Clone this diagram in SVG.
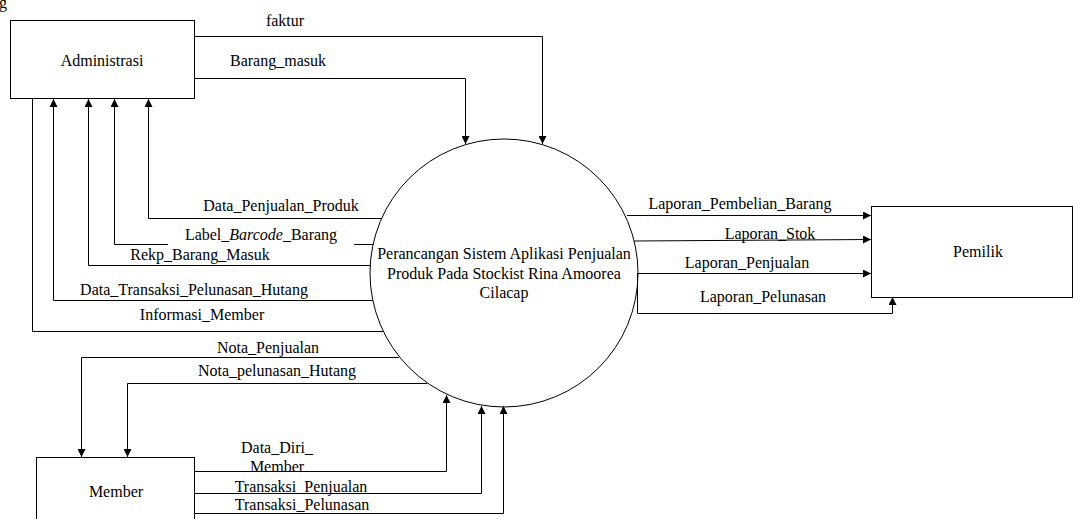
<svg xmlns="http://www.w3.org/2000/svg" width="1073" height="519" viewBox="0 0 1073 519">
<defs>
<marker id="arr" markerUnits="userSpaceOnUse" markerWidth="9" markerHeight="8" refX="8" refY="4" orient="auto">
<path d="M0,0 L8,4 L0,8 z" fill="#000"/>
</marker>
<style>
text{font-family:"Liberation Serif","Times New Roman",serif;font-size:16px;fill:#000}
.c{text-anchor:middle}
.box{fill:#fff;stroke:#000;stroke-width:1}
.ln{fill:none;stroke:#000;stroke-width:1}
.a{marker-end:url(#arr)}
</style>
</defs>
<rect width="1073" height="519" fill="#fff"/>
<text x="-1" y="8">g</text>
<g id="connectors">
<g id="c-faktur"><path class="ln a" d="M194,36.5 H542.5 V144"/><text class="c" x="285" y="26">faktur</text></g>
<g id="c-barang-masuk"><path class="ln a" d="M194,78.5 H465.5 V144"/><text class="c" x="278" y="66">Barang_masuk</text></g>
<g id="c-data-penjualan-produk"><path class="ln a" d="M382,218.5 H148.5 V99"/><text class="c" x="281" y="211">Data_Penjualan_Produk</text></g>
<g id="c-label-barcode"><path class="ln a" d="M373,244.5 H114.5 V99"/><rect x="168" y="226" width="186" height="22" fill="#fff"/><text class="c" x="261" y="240">Label_<tspan font-style="italic">Barcode</tspan>_Barang</text></g>
<g id="c-rekp"><path class="ln a" d="M370,265.5 H88.5 V99"/><text class="c" x="200" y="260">Rekp_Barang_Masuk</text></g>
<g id="c-data-transaksi"><path class="ln a" d="M373,300.5 H53.5 V99"/><text class="c" x="194" y="295">Data_Transaksi_Pelunasan_Hutang</text></g>
<g id="c-informasi-member"><path class="ln" d="M383,331.5 H32.5 V99"/><text class="c" x="202" y="320">Informasi_Member</text></g>
<g id="c-nota-penjualan"><path class="ln a" d="M399,357.5 H81.5 V457"/><text class="c" x="268" y="353">Nota_Penjualan</text></g>
<g id="c-nota-pelunasan"><path class="ln a" d="M427,383.5 H127.5 V457"/><text class="c" x="277" y="376">Nota_pelunasan_Hutang</text></g>
<g id="c-data-diri"><path class="ln a" d="M194,471.5 H446.5 V395"/><text class="c" x="277" y="453">Data_Diri_</text><text class="c" x="277" y="472">Member</text></g>
<g id="c-transaksi-penjualan"><path class="ln a" d="M194,493.5 H481.5 V406"/><text class="c" x="301" y="492">Transaksi_Penjualan</text></g>
<g id="c-transaksi-pelunasan"><path class="ln a" d="M194,513.5 H503.5 V406"/><text class="c" x="302" y="510">Transaksi_Pelunasan</text></g>
<g id="c-lap-pembelian"><path class="ln a" d="M627,215.5 H871"/><text class="c" x="740" y="209">Laporan_Pembelian_Barang</text></g>
<g id="c-lap-stok"><path class="ln a" d="M634,241 L871,239.5"/><text class="c" x="770" y="239">Laporan_Stok</text></g>
<g id="c-lap-penjualan"><path class="ln a" d="M637,273.5 H871"/><text class="c" x="747" y="268">Laporan_Penjualan</text></g>
<g id="c-lap-pelunasan"><path class="ln a" d="M637.5,273 V313.5 H892.5 V297"/><text class="c" x="763" y="302">Laporan_Pelunasan</text></g>
</g>
<g id="node-administrasi"><rect class="box" x="10.5" y="20.5" width="184" height="78"/><text class="c" x="102" y="66">Administrasi</text></g>
<g id="node-process"><circle cx="504" cy="273" r="134" fill="none" stroke="#000" stroke-width="1"/><text class="c" x="504" y="259">Perancangan Sistem Aplikasi Penjualan</text><text class="c" x="504" y="279">Produk Pada Stockist Rina Amoorea</text><text class="c" x="504" y="298">Cilacap</text></g>
<g id="node-pemilik"><rect class="box" x="871.5" y="206.5" width="201" height="91"/><text class="c" x="978" y="257">Pemilik</text></g>
<g id="node-member"><rect class="box" x="36.5" y="457.5" width="158" height="80"/><text class="c" x="116" y="497">Member</text></g>
</svg>
